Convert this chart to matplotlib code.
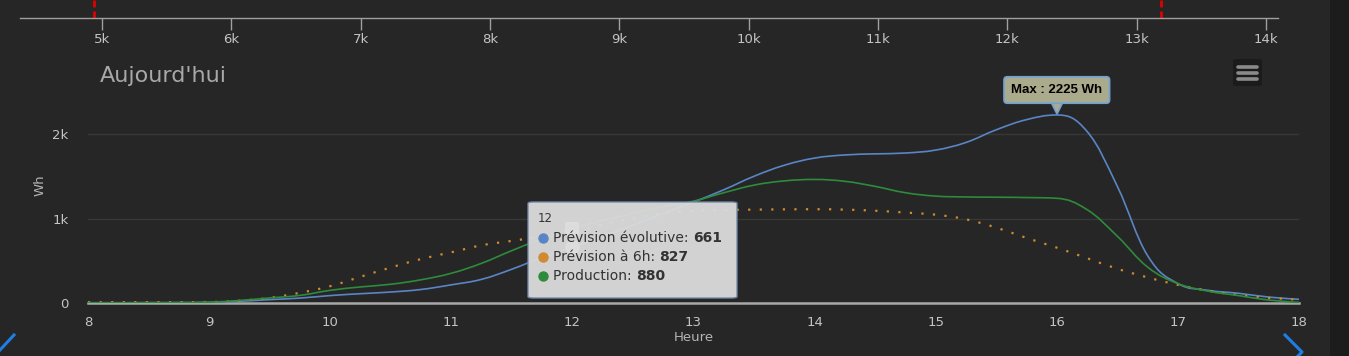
import matplotlib
matplotlib.use('Agg')
import matplotlib.pyplot as plt
from matplotlib.patches import FancyBboxPatch, Rectangle, PathPatch
from matplotlib.path import Path
from matplotlib.lines import Line2D
from matplotlib.ticker import FuncFormatter
from matplotlib.transforms import offset_copy

W, H = 1349, 356
BG = '#262626'

# quarter-hour readings (Wh)
hours = [8.0, 8.25, 8.5, 8.75, 9.0, 9.25, 9.5, 9.75, 10.0, 10.25, 10.5, 10.75,
         11.0, 11.25, 11.5, 11.75, 12.0, 12.25, 12.5, 12.75, 13.0, 13.25, 13.5,
         13.75, 14.0, 14.25, 14.5, 14.75, 15.0, 15.25, 15.5, 15.75, 16.0, 16.25,
         16.5, 16.75, 17.0, 17.25, 17.5, 17.75, 18.0]
prev_evol = [3, 3, 4, 5, 8, 20, 40, 58, 88, 110, 130, 160,
             215, 280, 400, 540, 661, 790, 920, 1060, 1195, 1340, 1500,
             1630, 1715, 1752, 1765, 1775, 1810, 1900, 2050, 2170, 2225, 2030,
             1380, 560, 230, 150, 115, 70, 44]
prev_6h = [10, 10, 10, 10, 12, 27, 61, 121, 199, 310, 420, 520,
           600, 683, 735, 785, 827, 930, 1000, 1060, 1090, 1100, 1105,
           1108, 1110, 1105, 1092, 1070, 1045, 990, 892, 770, 655, 530,
           405, 303, 215, 146, 95, 60, 40]
production = [3, 3, 4, 5, 10, 30, 60, 90, 150, 190, 222, 275,
              352, 470, 620, 760, 880, 975, 1060, 1140, 1205, 1305, 1395,
              1445, 1462, 1440, 1380, 1305, 1265, 1255, 1252, 1248, 1239, 1105,
              790, 425, 230, 140, 88, 35, 8]

series_names = ['Prévision évolutive', 'Prévision à 6h', 'Production']
series_colors = ['#5a85c5', '#d08a30', '#2e8b3b']

# navigator (top strip)
nav_ticks = [5000, 6000, 7000, 8000, 9000, 10000, 11000, 12000, 13000, 14000]
nav_lim = [4366, 14093]
nav_range = [4938, 13188]

hover_hour = 12
max_label = 'Max : 2225 Wh'


def fx(px):
    return px / W


def fy(py):
    return 1 - py / H


def spline_path(xs, ys, smoothing=1.5):
    # bezier curve through the points, same control-point rule as a highcharts spline
    n = len(xs)
    left = [None] * n
    right = [None] * n
    d = smoothing + 1
    for i in range(n):
        x, y = xs[i], ys[i]
        if i == 0 or i == n - 1:
            left[i] = right[i] = (x, y)
            continue
        lx, ly = xs[i - 1], ys[i - 1]
        nx, ny = xs[i + 1], ys[i + 1]
        lcx, lcy = (smoothing * x + lx) / d, (smoothing * y + ly) / d
        rcx, rcy = (smoothing * x + nx) / d, (smoothing * y + ny) / d
        corr = (rcy - lcy) * (rcx - x) / (rcx - lcx) + y - rcy
        lcy += corr
        rcy += corr
        if lcy > ly and lcy > y:
            lcy = max(ly, y)
            rcy = 2 * y - lcy
        elif lcy < ly and lcy < y:
            lcy = min(ly, y)
            rcy = 2 * y - lcy
        if rcy > ny and rcy > y:
            rcy = max(ny, y)
            lcy = 2 * y - rcy
        elif rcy < ny and rcy < y:
            rcy = min(ny, y)
            lcy = 2 * y - rcy
        left[i] = (lcx, lcy)
        right[i] = (rcx, rcy)
    verts = [(xs[0], ys[0])]
    codes = [Path.MOVETO]
    for i in range(1, n):
        verts += [right[i - 1], left[i], (xs[i], ys[i])]
        codes += [Path.CURVE4] * 3
    return Path(verts, codes)


fig = plt.figure(figsize=(W / 100, H / 100), dpi=100, facecolor=BG)
fig.patches.append(Rectangle((fx(1330), 0), fx(W - 1330), 1, transform=fig.transFigure,
                             facecolor='#1c1c1c', edgecolor='none', zorder=0))

# ---- navigator axis
nav = fig.add_axes([fx(20), fy(18), fx(1278 - 20), 18 / H])
nav.set_facecolor('none')
nav.set_xlim(nav_lim)
nav.set_ylim(0, 1)
for s in ['top', 'left', 'right']:
    nav.spines[s].set_visible(False)
nav.spines['bottom'].set_color('#a0a0a0')
nav.spines['bottom'].set_linewidth(1)
nav.set_yticks([])
nav.set_xticks(nav_ticks)
nav.xaxis.set_major_formatter(FuncFormatter(lambda v, p: f'{int(v / 1000)}k'))
nav.tick_params(axis='x', colors='#a0a0a0', labelcolor='#c4c4c4', length=8.5, width=1,
                direction='out', labelsize=9.5, pad=2)
for v in nav_range:
    nav.axvline(v, color='#e00000', lw=2, ls=(0, (2.5, 1.5)), clip_on=False)

# ---- main chart
ax = fig.add_axes([fx(88), fy(303), fx(1299 - 88), (303 - 100.2) / H])
ax.set_facecolor('none')
ax.set_xlim(8, 18)
ax.set_ylim(0, 2400)
for s in ['top', 'left', 'right']:
    ax.spines[s].set_visible(False)
ax.spines['bottom'].set_color('#a8a8a8')
ax.spines['bottom'].set_linewidth(1.8)
ax.set_yticks([0, 1000, 2000])
ax.set_yticklabels(['0', '1k', '2k'])
ax.set_xticks(range(8, 19))
ax.tick_params(axis='both', length=0, labelcolor='#c4c4c4', labelsize=9.5)
ax.tick_params(axis='y', pad=14)
ax.tick_params(axis='x', pad=9)
ax.grid(axis='y', color='#383838', lw=1)
ax.set_axisbelow(True)

ax.add_patch(PathPatch(spline_path(hours, prev_evol), fill=False, ec=series_colors[0],
                       lw=1.2, zorder=3))
ax.add_patch(PathPatch(spline_path(hours, prev_6h), fill=False, ec=series_colors[1],
                       lw=1.6, ls=(0, (1, 4.2)), zorder=3))
ax.add_patch(PathPatch(spline_path(hours, production), fill=False, ec=series_colors[2],
                       lw=1.2, zorder=3))

ax.set_xlabel('Heure', color='#b4b4b4', fontsize=9.5, labelpad=2)
fig.text(fx(40), fy(185), 'Wh', rotation=90, color='#b4b4b4', fontsize=9.5,
         ha='center', va='center')
fig.text(fx(100), fy(76), "Aujourd'hui", color='#a8a8a8', fontsize=16,
         ha='left', va='center')

# ---- max label callout
i_max = prev_evol.index(max(prev_evol))
ax.plot(hours[i_max], prev_evol[i_max], marker='v', ms=9, mfc='#aaaa8c', mec='#6fa0d8',
        mew=1.2, transform=offset_copy(ax.transData, fig, x=0, y=7, units='dots'),
        zorder=5, clip_on=False)
ax.annotate(max_label, xy=(hours[i_max], prev_evol[i_max]), xytext=(0, 19),
            textcoords='offset pixels', ha='center', va='bottom',
            fontsize=9.5, fontweight='bold', family='Liberation Sans', color='black',
            bbox=dict(boxstyle='round,pad=0.55,rounding_size=0.25', fc='#aaaa8c',
                      ec='#6fa0d8', lw=1.2), zorder=6, annotation_clip=False)

# ---- tooltip
tip = FancyBboxPatch((fx(528), fy(298)), fx(737 - 528), (298 - 202) / H,
                     boxstyle='round,pad=0,rounding_size=0.004', transform=fig.transFigure,
                     facecolor='#dcdcdc', edgecolor='#7088aa', lw=1, alpha=0.95, zorder=10)
fig.patches.append(tip)
i_h = hours.index(hover_hour)
ax.plot(hover_hour, production[i_h], marker='s', ms=9, mfc='#dfe7dc', mec='white',
        mew=1.3, zorder=12, clip_on=False)
ax.plot(hover_hour, prev_evol[i_h], marker='o', ms=9, mfc='#d9dce2', mec='white',
        mew=1.3, zorder=12, clip_on=False)

fig.text(fx(538), fy(219), str(hover_hour), color='#333333', fontsize=8.5,
         ha='left', va='center', zorder=11)
vals = [prev_evol[i_h], prev_6h[i_h], production[i_h]]
for k, (name, c, v) in enumerate(zip(series_names, series_colors, vals)):
    yy = fy(238 + 19 * k)
    fig.add_artist(Line2D([fx(543)], [yy], marker='o', ms=6.5, color=c,
                          transform=fig.transFigure, zorder=11))
    t = fig.text(fx(553), yy, name + ': ', color='#333333', fontsize=10,
                 ha='left', va='center', zorder=11)
    fig.add_artist(plt.Annotation(str(v), xy=(1, 0.5), xycoords=t, ha='left',
                                  va='center', fontsize=10, fontweight='bold',
                                  color='#333333', zorder=11))

# ---- menu button
fig.patches.append(FancyBboxPatch((fx(1233), fy(86)), fx(29), 27 / H,
                                  boxstyle='round,pad=0,rounding_size=0.004',
                                  transform=fig.transFigure, facecolor='#1b1b1b',
                                  edgecolor='none', zorder=5))
for by in [66.5, 72.5, 78.5]:
    fig.add_artist(Line2D([fx(1238), fx(1257)], [fy(by), fy(by)], color='#8a8a8a', lw=2.6,
                          solid_capstyle='round', transform=fig.transFigure, zorder=6))

# ---- scroll chevrons
fig.add_artist(Line2D([fx(14), fx(0)], [fy(335), fy(350)], color='#1e7ee6', lw=2.2,
                      transform=fig.transFigure))
fig.add_artist(Line2D([fx(1285), fx(1302), fx(1297)], [fy(335), fy(352), fy(357)],
                      color='#1e7ee6', lw=2.2, transform=fig.transFigure))

fig.savefig('out.png', dpi=100, facecolor=BG)
